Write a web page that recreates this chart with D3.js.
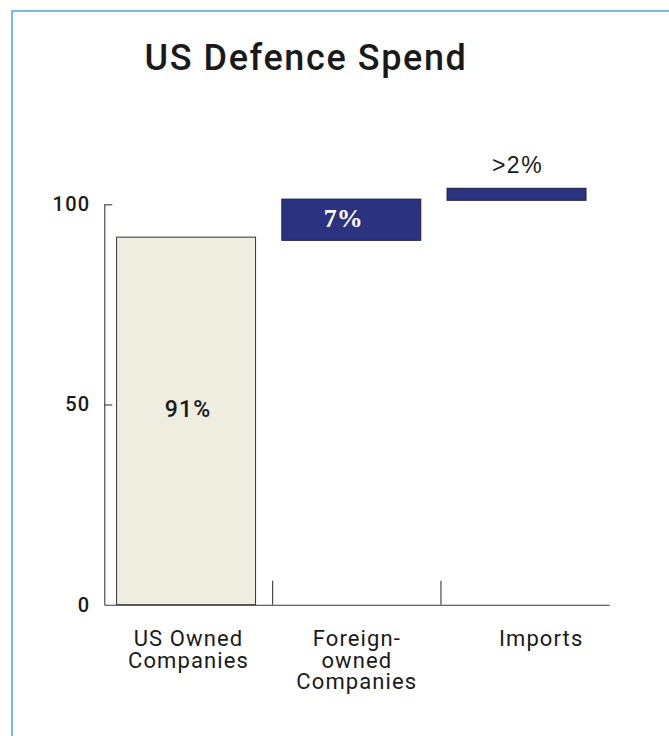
<!DOCTYPE html>
<html>
<head>
<meta charset="utf-8">
<script src="https://cdn.jsdelivr.net/npm/d3@7"></script>
<style>
  html, body { margin: 0; padding: 0; background: #ffffff; }
  svg { display: block; }
</style>
</head>
<body>
<script>
// ---- data ----
const categories = ["US Owned Companies", "Foreign-owned Companies", "Imports"];
const categoryLines = [["US Owned", "Companies"], ["Foreign-", "owned", "Companies"], ["Imports"]];
const barStart = [0, 91, 101];
const barEnd = [91.8, 101.3, 104];
const barLabels = ["91%", "7%", ">2%"];
const yTicks = [0, 50, 100];
const title = "US Defence Spend";

// ---- layout ----
const W = 669, H = 736;
const svg = d3.select("body").append("svg").attr("width", W).attr("height", H);

// frame
svg.append("rect")
  .attr("x", 12).attr("y", 11)
  .attr("width", W + 20).attr("height", H + 20)
  .attr("fill", "none").attr("stroke", "#5aa7de").attr("stroke-width", 1.6);

svg.append("text")
  .attr("x", 306).attr("y", 70)
  .attr("text-anchor", "middle")
  .attr("font-family", "Roboto, sans-serif")
  .attr("font-size", 36)
  .attr("font-weight", 500)
  .attr("letter-spacing", 1.6)
  .attr("fill", "#1a1a1a")
  .text(title);

const y = d3.scaleLinear().domain([0, 100]).range([604.7, 204.3]);
const xAxisBand = d3.scaleBand().domain(categories).range([104.3, 609.3]).paddingInner(0).paddingOuter(0);
const xBar = d3.scaleBand().domain(categories).range([116.6, 586]).paddingInner(0.159).paddingOuter(0);

const axisColor = "#3a3a3a";

// y axis
const yAxis = d3.axisLeft(y).tickValues(yTicks).tickSizeInner(-8).tickSizeOuter(0).tickPadding(14);
const gy = svg.append("g").attr("transform", "translate(104.3,0)").call(yAxis);
gy.select(".domain").attr("stroke", axisColor).attr("stroke-width", 1.1);
gy.selectAll(".tick line").attr("stroke", axisColor).attr("stroke-width", 1.1);
gy.selectAll(".tick text")
  .attr("font-family", "Roboto, sans-serif").attr("font-size", 20)
  .attr("font-weight", 500)
  .attr("letter-spacing", 1.2)
  .attr("fill", "#1a1a1a");
gy.selectAll(".tick").filter(d => d === 0).select("line").remove();

// x baseline
const xAxis = d3.axisBottom(xAxisBand).tickSize(0).tickFormat("");
const gx = svg.append("g").attr("transform", `translate(0,${y(0)})`).call(xAxis);
gx.select(".domain").attr("stroke", axisColor).attr("stroke-width", 1.1);
gx.selectAll(".tick").remove();

// category separators (between bands)
svg.append("g").selectAll("line")
  .data(categories.slice(1))
  .join("line")
  .attr("x1", d => xAxisBand(d)).attr("x2", d => xAxisBand(d))
  .attr("y1", y(0) - 24).attr("y2", y(0))
  .attr("stroke", axisColor).attr("stroke-width", 1.1);

// bars
const fills = ["#efece0", "#2b3380", "#2b3380"];
const strokes = ["#333333", "#1c1f45", "#1c1f45"];
svg.append("g").selectAll("rect")
  .data(categories)
  .join("rect")
  .attr("x", d => xBar(d))
  .attr("width", xBar.bandwidth())
  .attr("y", (d, i) => y(barEnd[i]))
  .attr("height", (d, i) => y(barStart[i]) - y(barEnd[i]))
  .attr("fill", (d, i) => fills[i])
  .attr("stroke", (d, i) => strokes[i])
  .attr("stroke-width", 1);

// bar labels
const cx = d => xBar(d) + xBar.bandwidth() / 2;
// 91%
svg.append("text")
  .attr("x", cx(categories[0]) + 2).attr("y", y(47))
  .attr("text-anchor", "middle")
  .attr("font-family", "Roboto, sans-serif").attr("font-size", 23)
  .attr("font-weight", 500)
  .attr("letter-spacing", 1.2)
  .attr("fill", "#1a1a1a")
  .text(barLabels[0]);
// 7%
svg.append("text")
  .attr("x", cx(categories[1]) - 8).attr("y", (y(barStart[1]) + y(barEnd[1])) / 2 + 7)
  .attr("text-anchor", "middle")
  .attr("font-family", "'Liberation Serif', serif").attr("font-size", 26)
  .attr("font-weight", "bold")
  .attr("fill", "#ffffff")
  .text(barLabels[1]);
// >2%
svg.append("text")
  .attr("x", cx(categories[2]) + 1).attr("y", y(barEnd[2]) - 15.6)
  .attr("text-anchor", "middle")
  .attr("font-family", "'Liberation Sans', Arial, sans-serif").attr("font-size", 23)
  .attr("letter-spacing", 1.5)
  .attr("fill", "#1a1a1a")
  .text(barLabels[2]);

// category labels
const labelX = (d, i) => xAxisBand(d) + xAxisBand.bandwidth() / 2 + (i === 2 ? 16 : 0);
const lab = svg.append("g").selectAll("text")
  .data(categories)
  .join("text")
  .attr("x", labelX)
  .attr("y", 646)
  .attr("text-anchor", "middle")
  .attr("font-family", "Roboto, sans-serif").attr("font-size", 22)
  .attr("letter-spacing", 1.1)
  .attr("fill", "#1a1a1a");
lab.each(function(d, i) {
  d3.select(this).selectAll("tspan")
    .data(categoryLines[i])
    .join("tspan")
    .attr("x", labelX(d, i))
    .attr("dy", (t, j) => j === 0 ? 0 : 21.5)
    .text(t => t);
});
</script>
</body>
</html>
